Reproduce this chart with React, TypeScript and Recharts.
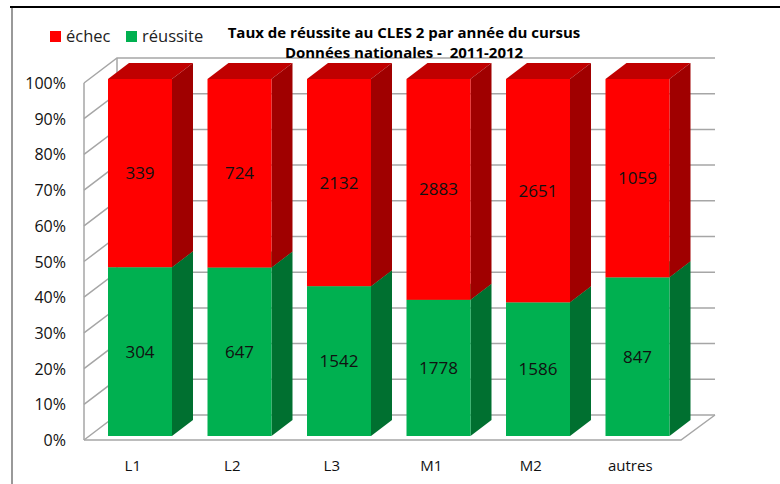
import React from 'react';
import { BarChart, Bar, XAxis, YAxis, CartesianGrid, LabelList } from 'recharts';

const categories = ['L1', 'L2', 'L3', 'M1', 'M2', 'autres'];
const reussite = [304, 647, 1542, 1778, 1586, 847];
const echec = [339, 724, 2132, 2883, 2651, 1059];
const yTicks = [0, 0.1, 0.2, 0.3, 0.4, 0.5, 0.6, 0.7, 0.8, 0.9, 1];

const chartData = categories.map((name, i) => ({
  name,
  reussite: reussite[i],
  echec: echec[i],
}));

const FONT = '"Open Sans", sans-serif';
const GRID = '#a6a6a6';

// fake 3D: depth of the bars and of the walls
const DX = 21;
const DY = 16;

const Bar3D = (props: any) => {
  const { x, y, width, height, front, top, side } = props;
  const r = x + width;
  const b = y + height;
  return (
    <g>
      <polygon points={`${x},${y} ${x + DX},${y - DY} ${r + DX},${y - DY} ${r},${y}`} fill={top} />
      <polygon points={`${r},${y} ${r + DX},${y - DY} ${r + DX},${b - DY} ${r},${b}`} fill={side} />
      <rect x={x} y={y} width={width} height={height} fill={front} />
    </g>
  );
};

const WallLine = (props: any) => {
  const { x1, x2, y1 } = props;
  const left = x1 - 6;
  const backLeft = x1 + 27;
  const right = x2 + 28;
  const frontY = y1 + 4;
  const backY = y1 - 21;
  const isFloor = frontY > 430;
  const isTop = backY < 70;
  return (
    <g fill="none" stroke={GRID} strokeWidth={1.5}>
      <polyline points={`${left},${frontY} ${backLeft},${backY} ${right},${backY}`} />
      {isFloor && <polyline points={`${left},${frontY} ${x2 - 6},${frontY} ${right},${backY}`} />}
      {isFloor && <line x1={left} y1={frontY} x2={left} y2={83} />}
      {isTop && <line x1={backLeft} y1={backY} x2={backLeft} y2={415} />}
    </g>
  );
};

const YTick = (props: any) => {
  const { y, payload } = props;
  return (
    <text x={66} y={y + 10} textAnchor="end" fontFamily={FONT} fontSize={16} fill="#111">
      {Math.round(payload.value * 100)}%
    </text>
  );
};

const XTick = (props: any) => {
  const { x, payload } = props;
  return (
    <text x={x - 7} y={471} textAnchor="middle" fontFamily={FONT} fontSize={15} fill="#111">
      {payload.value}
    </text>
  );
};

const swatch: React.CSSProperties = { position: 'absolute', top: 31, width: 11, height: 11 };
const legendText: React.CSSProperties = {
  position: 'absolute',
  top: 24,
  fontFamily: FONT,
  fontSize: 16.5,
  color: '#222',
  whiteSpace: 'nowrap',
};
const titleLine: React.CSSProperties = {
  position: 'absolute',
  left: 204,
  width: 400,
  textAlign: 'center',
  fontFamily: FONT,
  fontWeight: 700,
  fontSize: 15,
  color: '#000',
  whiteSpace: 'pre',
};

export default function App() {
  return (
    <div style={{ position: 'absolute', left: 0, top: 0, width: 780, height: 484, background: '#fff', overflow: 'hidden' }}>
      <BarChart
        width={780}
        height={484}
        data={chartData}
        stackOffset="expand"
        margin={{ top: 79, right: 93, bottom: 18, left: 20 }}
      >
        <CartesianGrid vertical={false} horizontal={<WallLine />} />
        <XAxis dataKey="name" axisLine={false} tickLine={false} tick={<XTick />} interval={0} />
        <YAxis
          type="number"
          domain={[0, 1]}
          ticks={yTicks}
          width={70}
          axisLine={false}
          tickLine={false}
          tick={<YTick />}
          interval={0}
        />
        <Bar
          dataKey="reussite"
          stackId="a"
          barSize={64}
          isAnimationActive={false}
          shape={<Bar3D front="#00b050" top="#00b050" side="#007030" />}
        >
          <LabelList dataKey="reussite" position="center" fontFamily={FONT} fontSize={17} fill="#111" />
        </Bar>
        <Bar
          dataKey="echec"
          stackId="a"
          barSize={64}
          isAnimationActive={false}
          shape={<Bar3D front="#ff0000" top="#c00000" side="#a00000" />}
        >
          <LabelList dataKey="echec" position="center" fontFamily={FONT} fontSize={17} fill="#111" />
        </Bar>
      </BarChart>

      <div style={{ position: 'absolute', left: 10, top: 6, right: 0, height: 2, background: '#000' }} />
      <div style={{ position: 'absolute', left: 11, top: 8, bottom: 0, width: 1.5, background: '#999' }} />

      <div style={{ ...swatch, left: 50, background: '#ff0000' }} />
      <div style={{ ...legendText, left: 66 }}>échec</div>
      <div style={{ ...swatch, left: 126, background: '#00b050' }} />
      <div style={{ ...legendText, left: 142 }}>réussite</div>

      <div style={{ ...titleLine, top: 22 }}>Taux de réussite au CLES 2 par année du cursus</div>
      <div style={{ ...titleLine, top: 42 }}>Données nationales -  2011-2012</div>
    </div>
  );
}
